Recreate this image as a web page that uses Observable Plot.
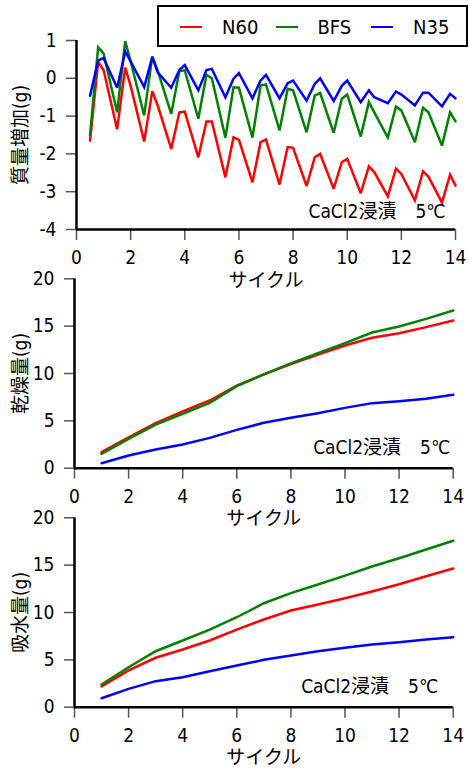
<!DOCTYPE html>
<html>
<head>
<meta charset="utf-8">
<script src="https://cdn.jsdelivr.net/npm/d3@7"></script>
<script src="https://cdn.jsdelivr.net/npm/@observablehq/plot@0.6"></script>
<style>
  body { margin: 0; background: #fff; }
  #chart { position: relative; width: 469px; height: 769px; overflow: hidden; background: #fff;
           font-family: "Liberation Sans Narrow", "DejaVu Sans Condensed", "Noto Sans CJK JP", sans-serif; }
  .panel { position: absolute; left: 0; }
  #legend { position: absolute; left: 157px; top: 5px; width: 307px; height: 38px;
            border: 2px solid #000; background: #fff; }
  .item { position: absolute; top: 0; height: 38px; }
  .swatch { position: absolute; top: 19px; width: 22px; height: 0; border-top: 2.5px solid; }
  .lab { position: absolute; left: 42px; top: 0; line-height: 40px; font-size: 20px; color: #000; white-space: nowrap; }
</style>
</head>
<body>
<div id="chart"></div>
<script>
const FONT = '"Liberation Sans Narrow", "DejaVu Sans Condensed", "Noto Sans CJK JP", sans-serif';

// series
const seriesNames = ["N60", "BFS", "N35"];
const seriesColors = ["#ff0000", "#008000", "#0000ff"];

// top panel: mass change (g) vs cycle
const topX = [0.5,0.8,1.0, 1.5,1.8,2.0, 2.5,2.8,3.0, 3.5,3.8,4.0, 4.5,4.8,5.0, 5.5,5.8,6.0, 6.5,6.8,7.0,
              7.5,7.8,8.0, 8.5,8.8,9.0, 9.5,9.8,10.0, 10.5,10.8,11.0, 11.5,11.8,12.0, 12.5,12.8,13.0, 13.5,13.8,14.0];
const topN60 = [-1.65,0.43,0.22, -1.35,0.28,-0.20, -1.67,-0.34,-0.72, -1.87,-0.90,-0.88, -2.09,-1.14,-1.14,
                -2.62,-1.56,-1.63, -2.75,-1.69,-1.62, -2.81,-1.82,-1.84, -2.85,-2.09,-2.00, -2.92,-2.22,-2.13,
                -3.04,-2.33,-2.48, -3.12,-2.39,-2.53, -3.23,-2.46,-2.60, -3.29,-2.55,-2.84];
const topBFS = [-1.51,0.82,0.66, -0.90,0.98,0.45, -0.98,0.58,0.20, -0.94,0.19,0.21, -1.07,0.09,0.00,
                -1.57,-0.24,-0.25, -1.57,-0.19,-0.16, -1.38,-0.28,-0.32, -1.43,-0.46,-0.39, -1.44,-0.54,-0.43,
                -1.54,-0.63,-0.90, -1.57,-0.75,-0.85, -1.69,-0.78,-0.90, -1.78,-0.90,-1.14];
const topN35 = [-0.46,0.47,0.54, -0.25,0.71,0.45, -0.23,0.56,0.16, -0.25,0.22,0.35, -0.32,0.22,0.25,
                -0.50,-0.01,0.14, -0.53,-0.06,0.09, -0.53,-0.13,-0.06, -0.59,-0.15,0.00, -0.60,-0.20,-0.06,
                -0.63,-0.32,-0.50, -0.66,-0.35,-0.43, -0.72,-0.38,-0.38, -0.74,-0.41,-0.53];

// middle & bottom panels
const cycles = [1,2,3,4,5,6,7,8,9,10,11,12,13,14];
const dryN60 = [1.69,3.27,4.75,6.00,7.15,8.73,9.90,11.00,12.00,12.96,13.77,14.26,14.90,15.60];
const dryBFS = [1.52,3.10,4.60,5.74,6.90,8.67,9.90,11.07,12.15,13.20,14.33,14.96,15.77,16.65];
const dryN35 = [0.53,1.34,1.97,2.50,3.20,4.05,4.79,5.32,5.81,6.37,6.87,7.08,7.33,7.75];
const absN60 = [2.19,3.88,5.22,6.09,7.04,8.20,9.26,10.21,10.85,11.51,12.22,12.99,13.83,14.65];
const absBFS = [2.40,4.22,5.91,7.04,8.20,9.50,10.98,12.04,12.96,13.90,14.86,15.73,16.65,17.57];
const absN35 = [0.95,1.94,2.75,3.17,3.80,4.40,5.00,5.46,5.91,6.27,6.62,6.86,7.15,7.39];

// ticks and labels
const xTicks = [0,2,4,6,8,10,12,14];
const topYTicks = [-4,-3,-2,-1,0,1];
const amtYTicks = [0,5,10,15,20];
const xLabel = "サイクル";
const yLabels = ["質量増加(g)", "乾燥量(g)", "吸水量(g)"];
const note = "CaCl2浸漬　5℃";

function longData(xs, arrs) {
  const rows = [];
  arrs.forEach((a, i) => a.forEach((v, j) => rows.push({x: xs[j], y: v, series: seriesNames[i]})));
  return rows;
}

function panel(cfg) {
  return Plot.plot({
    width: 469, height: cfg.height,
    marginTop: cfg.mt, marginBottom: cfg.mb, marginLeft: cfg.ml, marginRight: cfg.mr,
    style: {background: "transparent", overflow: "visible", fontFamily: FONT, fontSize: "19px", color: "#000"},
    x: {domain: [0, 14]},
    y: {domain: cfg.ydomain},
    color: {domain: seriesNames, range: seriesColors},
    marks: [
      Plot.axisX({ticks: xTicks, tickSize: 11, tickPadding: 10, stroke: "#555", strokeWidth: 1.5, fill: "#000", label: null, tickFormat: d => String(d)}),
      Plot.axisY({ticks: cfg.yticks, tickSize: 10, tickPadding: 10, stroke: "#555", strokeWidth: 1.5, fill: "#000", label: null, tickFormat: d => String(d)}),
      Plot.line(cfg.data, {x: "x", y: "y", stroke: "series", strokeWidth: 2.5, strokeLinejoin: "miter", strokeMiterlimit: 3}),
      Plot.ruleX([0], {stroke: "#000", strokeWidth: 2.5}),
      Plot.ruleY([cfg.ydomain[0]], {stroke: "#000", strokeWidth: 2.5}),
      Plot.text([xLabel], {text: d => d, frameAnchor: "bottom", textAnchor: "middle", lineAnchor: "middle", dy: 51, fontSize: 19, fill: "#000"}),
      Plot.text([cfg.ylabel], {text: d => d, frameAnchor: "left", textAnchor: "middle", lineAnchor: "middle", dx: cfg.ylx, rotate: -90, fontSize: 19, fill: "#000"}),
      Plot.text([note], {text: d => d, frameAnchor: "bottom-right", textAnchor: "end", lineAnchor: "middle", dx: cfg.ndx, dy: cfg.ndy, fontSize: 19, fill: "#000"})
    ]
  });
}

const chart = document.getElementById("chart");
const panels = [
  {top: 0, height: 295, mt: 40, mb: 66, ml: 76, mr: 14, ydomain: [-4, 1], yticks: topYTicks,
   data: longData(topX, [topN60, topBFS, topN35]), ylabel: yLabels[0], ylx: -56, ndx: -10, ndy: -18},
  {top: 265, height: 265, mt: 13.3, mb: 62.3, ml: 74, mr: 16.3, ydomain: [0, 20], yticks: amtYTicks,
   data: longData(cycles, [dryN60, dryBFS, dryN35]), ylabel: yLabels[1], ylx: -54, ndx: -3, ndy: -20},
  {top: 505, height: 264, mt: 12.3, mb: 62.3, ml: 74, mr: 16.3, ydomain: [0, 20], yticks: amtYTicks,
   data: longData(cycles, [absN60, absBFS, absN35]), ylabel: yLabels[2], ylx: -54, ndx: -15, ndy: -20}
];
panels.forEach(cfg => {
  const div = document.createElement("div");
  div.className = "panel";
  div.style.top = cfg.top + "px";
  div.appendChild(panel(cfg));
  chart.appendChild(div);
});

// legend
const legend = document.createElement("div");
legend.id = "legend";
seriesNames.forEach((name, i) => {
  const item = document.createElement("div");
  item.className = "item";
  item.style.left = (21 + i * 95.5) + "px";
  const sw = document.createElement("div");
  sw.className = "swatch";
  sw.style.borderTopColor = seriesColors[i];
  const lab = document.createElement("div");
  lab.className = "lab";
  lab.textContent = name;
  item.appendChild(sw);
  item.appendChild(lab);
  legend.appendChild(item);
});
chart.appendChild(legend);
</script>
</body>
</html>
